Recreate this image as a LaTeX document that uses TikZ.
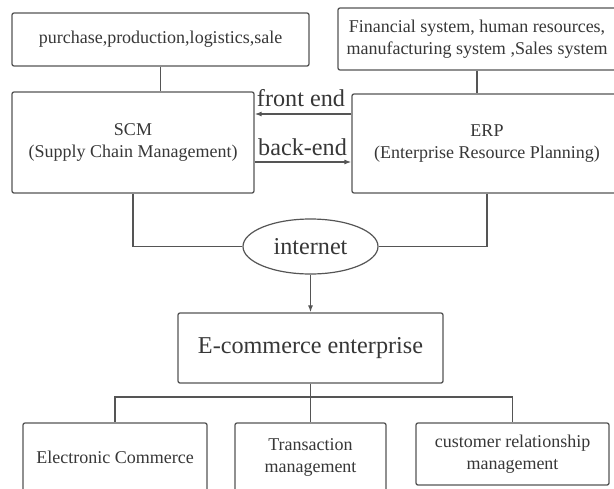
\documentclass[tikz,border=0pt]{standalone}
\usepackage{fontspec}
\setmainfont{Liberation Serif}
\usetikzlibrary{arrows.meta,shapes.geometric,calc}
\definecolor{lc}{RGB}{85,85,85}
\definecolor{tc}{RGB}{55,55,55}
\begin{document}
\begin{tikzpicture}[x=1pt,y=-1pt,
  box/.style={draw=lc,line width=1.3pt,rounded corners=2pt,inner sep=0pt,align=center,
    text=tc,font=\fontsize{18}{22}\selectfont},
  bigtxt/.style={text=tc,font=\fontsize{24.2}{28}\selectfont,inner sep=0pt},
  conn/.style={draw=lc,line width=1.2pt},
  arr/.style={conn,-{Latex[length=7pt,width=5pt]}}]
\useasboundingbox (0,0) rectangle (614,488);
\clip (0,0) rectangle (614,488);
\fill[white] (0,0) rectangle (614,488);
% top boxes
\node[box,minimum width=297pt,minimum height=53pt] (pur) at (160.5,39.5) {purchase,production,logistics,sale};
\node[box,minimum width=278pt,minimum height=62pt] (fin) at (477,39) {Financial system, human resources,\\manufacturing system ,Sales system};
% middle boxes
\node[box,minimum width=242pt,minimum height=101pt] (scm) at (133,142.5) {SCM\\(Supply Chain Management)};
\node[box,minimum width=270pt,minimum height=99pt] (erp) at (487,143.5) {ERP\\(Enterprise Resource Planning)};
\draw[conn] (pur.south) -- (pur.south |- scm.north);
\draw[conn] (fin.south) -- (fin.south |- erp.north);
% front / back arrows
\coordinate (fe) at ([yshift=29.5pt]erp.west);
\coordinate (be) at ([yshift=-19.5pt]scm.east);
\draw[arr] (fe) -- (fe -| scm.east);
\draw[arr] (be) -- (be -| erp.west);
\node[bigtxt,anchor=base] (lfe) at (301,106) {front end};
\node[bigtxt,anchor=base] (lbe) at (302.5,155) {back-end};
% internet
\node[ellipse,draw=lc,line width=1.2pt,minimum width=135pt,minimum height=55pt,inner sep=0pt,
  text=tc,font=\fontsize{24.2}{28}\selectfont] (net) at (310.5,246.5) {internet};
\draw[conn] (scm.south) |- (net.west);
\draw[conn] (erp.south) |- (net.east);
% e-commerce
\node[box,minimum width=265pt,minimum height=70pt,font=\fontsize{24.2}{28}\selectfont] (eco) at (310.5,348) {E-commerce enterprise};
\draw[arr] (net.south) -- (eco.north);
% bottom boxes
\node[box,minimum width=184pt,minimum height=69pt] (ea) at (115,457.5) {Electronic Commerce};
\node[box,minimum width=151pt,minimum height=69pt] (eb) at (310.5,457.5) {Transaction\\management};
\node[box,minimum width=193pt,minimum height=62pt] (ec) at (512.5,454) {customer relationship\\management};
\coordinate (j) at (310.5,397);
\draw[conn] (eco.south) -- (eb.north);
\draw[conn] (j) -| (ea.north);
\draw[conn] (j) -| (ec.north);
\end{tikzpicture}
\end{document}
